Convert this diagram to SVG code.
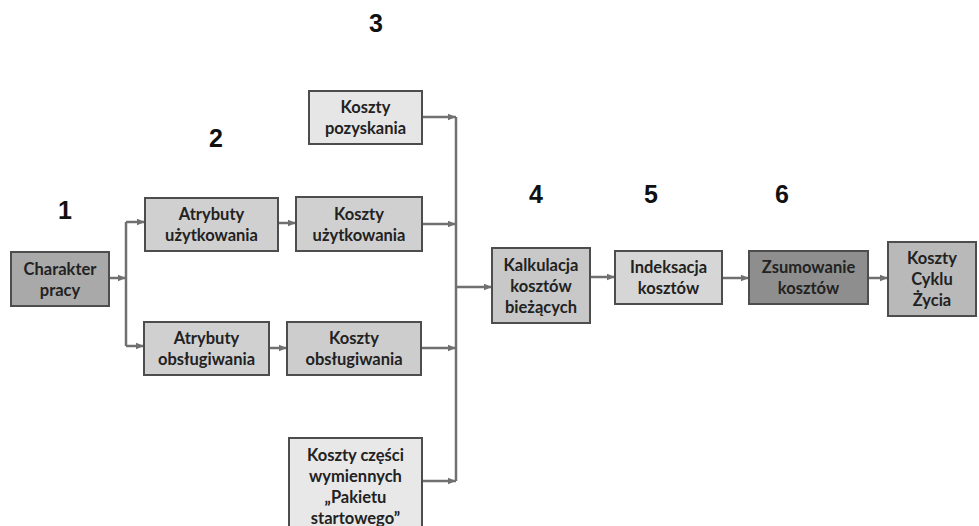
<svg xmlns="http://www.w3.org/2000/svg" width="979" height="526" viewBox="0 0 979 526">
<defs>
<marker id="ah" markerUnits="userSpaceOnUse" markerWidth="9" markerHeight="8" refX="8.5" refY="4" orient="auto">
<path d="M0,0.5 L8.5,4 L0,7.5 Z" fill="#707070"/>
</marker>
<style>
.box{stroke:#4d4d4d;stroke-width:2}
.lbl{font-family:Lato,"Open Sans","Liberation Sans",sans-serif;font-weight:700;font-size:16.5px;fill:#222;text-anchor:middle}
.num{font-family:"Liberation Sans",Arial,sans-serif;font-weight:700;font-size:25px;fill:#111;text-anchor:middle}
.ln{fill:none;stroke:#707070;stroke-width:2.5}
.ar{fill:none;stroke:#707070;stroke-width:2.5;marker-end:url(#ah)}
</style>
</defs>
<rect width="979" height="526" fill="#fff"/>

<g id="numbers">
<text class="num" x="65" y="219">1</text>
<text class="num" x="216" y="147">2</text>
<text class="num" x="376" y="32">3</text>
<text class="num" x="536" y="203">4</text>
<text class="num" x="651" y="203">5</text>
<text class="num" x="782" y="203">6</text>
</g>

<g id="connectors">
<path class="ar" d="M109,278 H126"/>
<path class="ln" d="M126,222 V346"/>
<path class="ar" d="M126,222 H145"/>
<path class="ar" d="M126,346 H144"/>
<path class="ar" d="M278,223 H296"/>
<path class="ar" d="M269,348 H287"/>
<path class="ar" d="M422,117 H456"/>
<path class="ar" d="M422,224 H456"/>
<path class="ar" d="M421,348 H456"/>
<path class="ar" d="M422,481 H456"/>
<path class="ln" d="M456,117 V481"/>
<path class="ar" d="M456,287 H492"/>
<path class="ar" d="M590,277 H615"/>
<path class="ar" d="M722,278 H749"/>
<path class="ar" d="M868,278 H888"/>
</g>

<g id="n-charakter">
<rect class="box" x="11" y="252" width="98" height="54" fill="#a9a9a9"/>
<text class="lbl" x="60" y="274.5">Charakter</text>
<text class="lbl" x="60" y="295.5">pracy</text>
</g>

<g id="n-atr-uzyt">
<rect class="box" x="145" y="198" width="133" height="53" fill="#d0d0d0"/>
<text class="lbl" x="211.5" y="219.5">Atrybuty</text>
<text class="lbl" x="211.5" y="240.5">użytkowania</text>
</g>

<g id="n-atr-obsl">
<rect class="box" x="144" y="322" width="125" height="53" fill="#d0d0d0"/>
<text class="lbl" x="206.5" y="343.5">Atrybuty</text>
<text class="lbl" x="206.5" y="364.5">obsługiwania</text>
</g>

<g id="n-k-pozysk">
<rect class="box" x="309" y="91" width="113" height="53" fill="#e6e6e6"/>
<text class="lbl" x="365.5" y="112.5">Koszty</text>
<text class="lbl" x="365.5" y="133.5">pozyskania</text>
</g>

<g id="n-k-uzyt">
<rect class="box" x="296" y="197" width="126" height="54" fill="#d0d0d0"/>
<text class="lbl" x="359" y="219.5">Koszty</text>
<text class="lbl" x="359" y="240.5">użytkowania</text>
</g>

<g id="n-k-obsl">
<rect class="box" x="287" y="322" width="134" height="53" fill="#cdcdcd"/>
<text class="lbl" x="354" y="343.5">Koszty</text>
<text class="lbl" x="354" y="364.5">obsługiwania</text>
</g>

<g id="n-k-czesci">
<rect class="box" x="289" y="438" width="133" height="95" fill="#e8e8e8"/>
<text class="lbl" x="355.5" y="460.5">Koszty części</text>
<text class="lbl" x="355.5" y="481.5">wymiennych</text>
<text class="lbl" x="355.5" y="502.5">„Pakietu</text>
<text class="lbl" x="355.5" y="523.5">startowego”</text>
</g>

<g id="n-kalkulacja">
<rect class="box" x="492" y="248" width="98" height="75" fill="#c8c8c8"/>
<text class="lbl" x="541" y="270.5">Kalkulacja</text>
<text class="lbl" x="541" y="291.5">kosztów</text>
<text class="lbl" x="541" y="312.5">bieżących</text>
</g>

<g id="n-indeksacja">
<rect class="box" x="615" y="251" width="107" height="53" fill="#d6d6d6"/>
<text class="lbl" x="668.5" y="272.5">Indeksacja</text>
<text class="lbl" x="668.5" y="293.5">kosztów</text>
</g>

<g id="n-zsumowanie">
<rect class="box" x="749" y="251" width="119" height="53" fill="#8e8e8e"/>
<text class="lbl" x="808.5" y="272.5">Zsumowanie</text>
<text class="lbl" x="808.5" y="293.5">kosztów</text>
</g>

<g id="n-lcc">
<rect class="box" x="888" y="242" width="88" height="74" fill="#b9b9b9"/>
<text class="lbl" x="932" y="263.5">Koszty</text>
<text class="lbl" x="932" y="284.5">Cyklu</text>
<text class="lbl" x="932" y="305.5">Życia</text>
</g>
</svg>
